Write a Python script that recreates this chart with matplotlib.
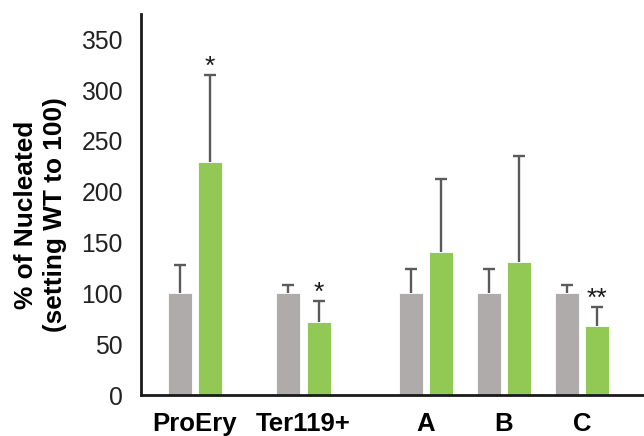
import matplotlib
matplotlib.use('Agg')
import matplotlib.pyplot as plt
import numpy as np

plt.rcParams['font.family'] = ['Liberation Sans', 'DejaVu Sans']

# data
categories = ['ProEry', 'Ter119+', 'A', 'B', 'C']
xpos = [0.0, 1.39, 2.96, 3.96, 4.96]
wt_values = [100, 100, 100, 100, 100]
wt_err = [28, 8, 24.5, 24.5, 8]
mut_values = [229, 72, 141, 131, 68]
mut_err = [86, 21, 72, 104, 19]
marks = ['*', '*', '', '', '**']

gray = '#AEABAA'
green = '#92C955'
errc = '#5A5A5A'

fig = plt.figure(figsize=(6.44, 4.36), dpi=100)
ax = fig.add_axes([0.219, 0.094, 0.781, 0.874])

x = np.array(xpos)
w = 0.308
off = 0.195
ekw = dict(ecolor=errc, elinewidth=1.7, capsize=4.6, capthick=1.7)
b1 = ax.bar(x - off, wt_values, w, color=gray, edgecolor='white', linewidth=0.6,
            yerr=[np.zeros(len(x)), wt_err], error_kw=ekw)
b2 = ax.bar(x + off, mut_values, w, color=green, edgecolor='white', linewidth=0.6,
            yerr=[np.zeros(len(x)), mut_err], error_kw=ekw)
# only the upper caps
for b in (b1, b2):
    caps = b.errorbar.lines[1]
    caps[0].set_visible(False)

for xi, v, e, m in zip(x, mut_values, mut_err, marks):
    if m:
        ax.text(xi + off, v + e + 1, m, ha='center', va='baseline', fontsize=19, color='#1a1a1a')

ax.set_xlim(-0.692, 5.756)
ax.set_ylim(0, 375)
ax.set_yticks(range(0, 351, 50))
ax.set_xticks(x)
ax.set_xticklabels(categories, fontsize=18.5, fontweight='bold')
ax.tick_params(axis='y', length=0, labelsize=17.8, pad=13, labelcolor='#222222')
ax.tick_params(axis='x', length=0, pad=12)
fig.text(40.5 / 644, 1 - 215 / 436, '% of Nucleated\n(setting WT to 100)', rotation=90,
         ha='center', va='center', fontsize=18.9, fontweight='bold', linespacing=1.25,
         multialignment='center')

for s in ['top', 'right']:
    ax.spines[s].set_visible(False)
for s in ['left', 'bottom']:
    ax.spines[s].set_linewidth(2)
    ax.spines[s].set_color('#1a1a1a')

fig.savefig('out.png', dpi=100)
